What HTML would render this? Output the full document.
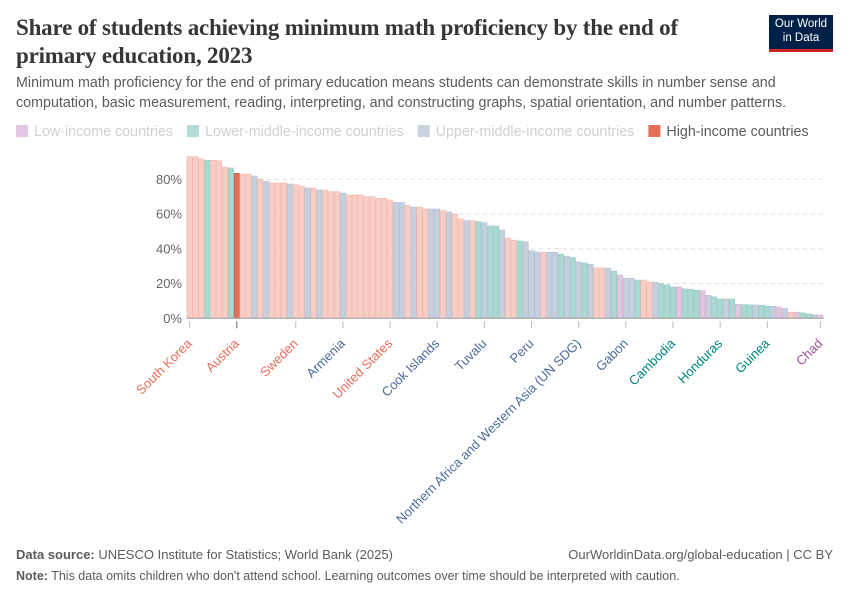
<!DOCTYPE html>
<html><head><meta charset="utf-8">
<style>
body{margin:0;background:#fff;font-family:"Liberation Sans",sans-serif;}
#wrap{position:relative;width:850px;height:600px;overflow:hidden;}
.t{position:absolute;white-space:nowrap;}
</style></head>
<body>
<div id="wrap">
<div class="t" style="left:16px;top:14px;font-family:'Liberation Serif',serif;font-size:23px;font-weight:bold;line-height:28px;color:#363636;letter-spacing:-0.2px;">Share of students achieving minimum math proficiency by the end of<br>primary education, 2023</div>
<div style="position:absolute;left:769px;top:15px;width:64px;height:37px;background:#002147;border-bottom:3px solid #ce261e;color:#fff;font-size:11.5px;line-height:14px;text-align:center;padding-top:2px;box-sizing:border-box;">Our World<br>in Data</div>
<div class="t" style="left:16px;top:73px;font-size:14.3px;line-height:20px;color:#5b5b5b;">Minimum math proficiency for the end of primary education means students can demonstrate skills in number sense and<br>computation, basic measurement, reading, interpreting, and constructing graphs, spatial orientation, and number patterns.</div>
<svg id="chart" width="850" height="600" style="position:absolute;left:0;top:0"></svg>
<div class="t" style="left:16px;top:547px;font-size:13px;color:#5b5b5b;"><b>Data source:</b> UNESCO Institute for Statistics; World Bank (2025)</div>
<div class="t" style="right:17px;top:547px;font-size:13px;color:#5b5b5b;">OurWorldinData.org/global-education | CC BY</div>
<div class="t" style="left:16px;top:569px;font-size:12.5px;color:#5b5b5b;"><b>Note:</b> This data omits children who don't attend school. Learning outcomes over time should be interpreted with caution.</div>
</div>
<script>
const values=[93,93,91.7,90.9,90.9,90.7,87,86.5,83.4,83,83,81.9,80.2,78.8,77.9,77.9,77.9,77.3,76.9,76.1,75,75,73.8,73.8,72.9,72.9,72.1,71,71,71,70,70,69,69,68.1,66.7,66.6,65,64,64,62.9,62.9,62.9,62,61.2,60,57.2,56.2,56.2,55.6,55,53.1,53.1,50.8,46.2,45,44.5,44.1,38.9,38.2,38,38,38,36.8,35.7,34.9,32.4,31.8,31.1,29,29,28.8,27.2,24.9,23,23,22,22,20.9,20.7,19.9,19.2,18,18,16.9,16.7,16.1,15.9,13.2,12.3,11.1,11.1,11.1,8.1,7.9,7.7,7.7,7.5,7.1,6.9,6.5,5.6,3.5,3.5,3.1,2.5,2.1,1.9];
const groups="HHHMHHHMAHHUHUHHHUHHUHUHHHUHHHHHHHHUUHUHHUUHUHHUHMUMMUHHMUUUHUUMUMUMUHHUMLUUMHHUMMMLMMMLUMMUMLMMUMMULUHLMMUL";
const labels={0:"South Korea",8:"Austria",18:"Sweden",26:"Armenia",34:"United States",42:"Cook Islands",50:"Tuvalu",58:"Peru",66:"Northern Africa and Western Asia (UN SDG)",74:"Gabon",82:"Cambodia",90:"Honduras",98:"Guinea",107:"Chad"};
const yTicks=[0,20,40,60,80];
const legendItems=[["Low-income countries","#e3c6df","#d0d0d0"],["Lower-middle-income countries","#b4ddd8","#d0d0d0"],["Upper-middle-income countries","#c9d2e1","#d0d0d0"],["High-income countries","#e56e5a","#5b5b5b"]];
const fill={H:"#f7cdc5",A:"#e56e5a",M:"#acd8d2",U:"#c6cfdd",L:"#e2c5df"};
const edge={H:"#f3b8ad",A:"#c9503e",M:"#8fc9c2",U:"#b3bfd1",L:"#d3acd0"};
const lblColor={H:"#e56e5a",A:"#e56e5a",M:"#00847e",U:"#4c6a9c",L:"#a2559c"};
const NS="http://www.w3.org/2000/svg";
const svg=document.getElementById('chart');
const x0=186.7,x1=823.3,y0=318.3,y80=179.3;
const bw=(x1-x0)/values.length;
const X=i=>x0+i*bw;
const Y=v=>y0-(v/80)*(y0-y80);
function mk(t,a){const e=document.createElementNS(NS,t);for(const k in a)e.setAttribute(k,a[k]);svg.appendChild(e);return e;}
let lx=16;
legendItems.forEach((it,i)=>{
  const r=mk('rect',{x:lx,y:125,width:12,height:12,fill:it[1]});
  
  
  const t=mk('text',{x:lx+18,y:136,'font-size':14.3,fill:it[2],'font-family':'Liberation Sans,sans-serif'});
  t.textContent=it[0];
  
  
  lx+=18+t.getComputedTextLength()+14;
});
yTicks.forEach(v=>{
  const y=Y(v);
  if(v>0){const g=mk('line',{x1:x0,x2:824,y1:y,y2:y,stroke:'#ddd','stroke-dasharray':'4,4'});
  
  }
  const t=mk('text',{x:182,y:y+4.5,'text-anchor':'end','font-size':13,fill:'#666'});
  t.textContent=v+'%';
  
  
});
values.forEach((v,i)=>{
  const g=groups[i];
  const r=mk('rect',{x:X(i)+0.3,y:Y(v),width:bw-0.6,height:y0-Y(v),fill:fill[g],stroke:edge[g],'stroke-width':0.6});
  
  
});
const base=mk('line',{x1:x0,x2:x1,y1:y0,y2:y0,stroke:'#999','stroke-width':1});


Object.keys(labels).forEach(k=>{
  const i=+k, cx=X(i)+bw/2, g=groups[i];
  const tk=mk('line',{x1:cx,x2:cx,y1:y0+3,y2:y0+10,stroke:g==='A'?'#666':'#bbb','stroke-width':1});
  
  
  const t=mk('text',{x:cx+3,y:y0+26,'text-anchor':'end','font-size':13,fill:lblColor[g],transform:`rotate(-45 ${cx+3} ${y0+26})`});
  t.textContent=labels[k];
  
  
});
</script>
</body></html>
